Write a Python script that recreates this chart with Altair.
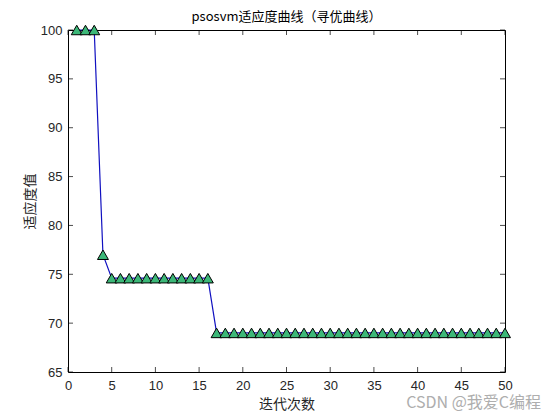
import altair as alt
import pandas as pd

iters = list(range(1, 51))
fitness = [100, 100, 100, 77.0] + [74.6] * 12 + [69.0] * 34
xticks = [0, 5, 10, 15, 20, 25, 30, 35, 40, 45, 50]
yticks = [65, 70, 75, 80, 85, 90, 95, 100]

W, H = 437, 342
df = pd.DataFrame({"iter": iters, "fit": fitness})
dxt = pd.DataFrame({"t": xticks})
dyt = pd.DataFrame({"t": yticks})

xs = alt.Scale(domain=[0, 50], nice=False, zero=False)
ys = alt.Scale(domain=[65, 100], nice=False, zero=False)

lab = "Liberation Sans"
cjk = "Noto Sans CJK SC"

xaxis = alt.Axis(values=xticks, ticks=False, grid=False, domain=False, labelFont=lab,
                 labelFontSize=13, labelColor="#262626", labelPadding=7,
                 title="迭代次数", titleFont=cjk, titleFontSize=14, titleFontWeight="normal",
                 titleColor="#262626", titlePadding=5, labelFlush=False)
yaxis = alt.Axis(values=yticks, ticks=False, grid=False, domain=False, labelFont=lab,
                 labelFontSize=13, labelColor="#262626", labelPadding=6,
                 title="适应度值", titleFont=cjk, titleFontSize=14, titleFontWeight="normal",
                 titleColor="#262626", titlePadding=3, labelFlush=False)

line = alt.Chart(df).mark_line(color="#1010c0", strokeWidth=1.2).encode(
    x=alt.X("iter:Q", scale=xs, axis=xaxis),
    y=alt.Y("fit:Q", scale=ys, axis=yaxis),
)
pts = alt.Chart(df).mark_point(shape="triangle-up", filled=True, fill="#3cb878",
                               stroke="black", strokeWidth=1, size=120, opacity=1).encode(
    x=alt.X("iter:Q", scale=xs), y=alt.Y("fit:Q", scale=ys))

tk = dict(color="black", thickness=1, size=5)
xb = alt.Chart(dxt).mark_tick(orient="vertical", **tk).encode(
    x=alt.X("t:Q", scale=xs), y=alt.value(H - 2.5))
xt = alt.Chart(dxt).mark_tick(orient="vertical", **tk).encode(
    x=alt.X("t:Q", scale=xs), y=alt.value(2.5))
yl = alt.Chart(dyt).mark_tick(orient="horizontal", **tk).encode(
    y=alt.Y("t:Q", scale=ys), x=alt.value(2.5))
yr = alt.Chart(dyt).mark_tick(orient="horizontal", **tk).encode(
    y=alt.Y("t:Q", scale=ys), x=alt.value(W - 2.5))

wm = alt.Chart(pd.DataFrame({"s": ["CSDN @我爱C编程"]})).mark_text(
    align="right", baseline="middle", font=cjk, fontSize=16, color="#a0a0a0", opacity=0.85
).encode(text="s:N", x=alt.value(W + 36), y=alt.value(H + 31))

chart = alt.layer(line, pts, xb, xt, yl, yr, wm).properties(
    width=W, height=H,
    title=alt.TitleParams("psosvm适应度曲线（寻优曲线）", font=cjk, fontSize=13,
                          fontWeight="normal", color="black", offset=-1),
    autosize=alt.AutoSizeParams(type="none"),
    padding={"left": 60, "top": 22, "right": 42, "bottom": 40},
    background="white",
).configure_view(stroke="black", strokeWidth=1)

chart.save("out.html", embed_options={"renderer": "svg", "actions": False})
